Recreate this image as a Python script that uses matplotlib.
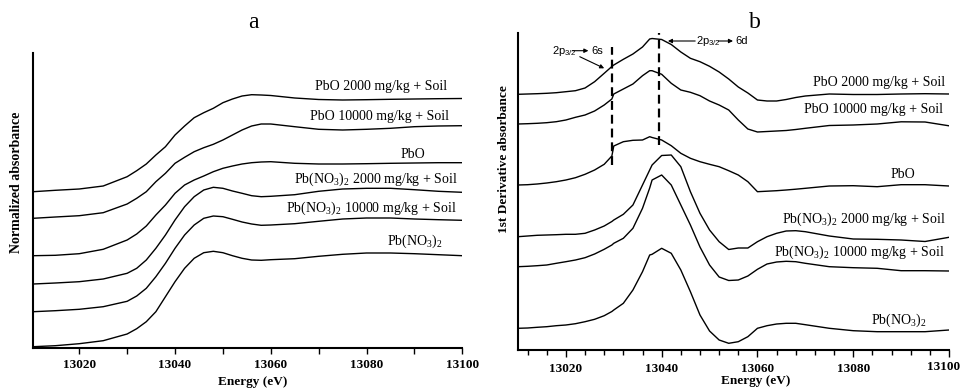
import matplotlib
matplotlib.use("Agg")
import matplotlib.pyplot as plt
from matplotlib.ticker import MultipleLocator

plt.rcParams['font.family'] = ['Liberation Serif', 'DejaVu Serif']
plt.rcParams['mathtext.fontset'] = 'custom'
plt.rcParams['mathtext.rm'] = 'Liberation Serif'
plt.rcParams['mathtext.sf'] = 'Liberation Sans'

# ---------------- data: panel a (normalized XANES, stacked) ----------------
energy_a = [13010.4, 13015, 13020, 13025, 13030, 13032, 13034, 13036, 13038, 13040,
            13042, 13044, 13046, 13048, 13050, 13052, 13054, 13056, 13058, 13060,
            13065, 13070, 13075, 13080, 13085, 13090, 13095, 13100]
a_pbo_2000 = [156.3, 157.7, 159, 162, 171.3, 177.3, 184, 193, 201.3, 213,
              222, 230.3, 235.3, 239.7, 245.3, 249, 252, 253.3, 253, 252.5,
              250, 248.5, 248, 248.3, 248.7, 249, 249.3, 249.5]
a_pbo_10000 = [129.7, 131, 132.3, 135.3, 144, 149.7, 156.3, 166.3, 174.7, 184.7,
               190.7, 196.3, 200.3, 203.7, 208, 213, 218, 222, 224, 224,
               221.3, 218.7, 218, 218.7, 219.7, 221.3, 222, 222.3]
a_pbo = [92.3, 92.7, 94.3, 98.7, 108, 114, 122, 133, 143, 154.7,
         163, 168, 172, 176.3, 179.7, 182, 184, 185.3, 186, 186.3,
         184.7, 184, 184, 184.3, 184.7, 185, 185.3, 185.3]
a_pbno3_2000 = [64, 65, 66.3, 69, 74.7, 79.7, 88, 99.7, 113, 128,
                141.3, 151.3, 158, 160.7, 159.7, 157, 154.7, 152.3, 151.3, 151.7,
                153.3, 156.7, 159, 159.7, 159.7, 158.3, 156.7, 155.7]
a_pbno3_10000 = [36.3, 37.3, 38.7, 41.3, 46.7, 52, 59.7, 71.3, 84.7, 99.7,
                 113, 123, 129.7, 132, 131.3, 128.7, 126, 124, 122.7, 123,
                 124.3, 126.7, 129, 130, 130, 129, 128.3, 127.7]
a_pbno3 = [1.3, 2.3, 4.3, 7.3, 14, 19.3, 26.3, 36.3, 51.3, 66.3,
           79.7, 89.7, 95.3, 96.7, 95.3, 92.3, 89.7, 88, 87.7, 88.3,
           89.3, 91.7, 93.7, 95, 95, 94.3, 93.3, 92.3]

# ---------------- data: panel b (1st derivative, stacked) ----------------
energy_b = [13010, 13012, 13014, 13016, 13018, 13020, 13022, 13024, 13026, 13028,
            13029.6, 13030, 13032, 13034, 13036, 13037.5, 13038, 13040, 13042, 13044,
            13046, 13048, 13050, 13052, 13054, 13056, 13058, 13060, 13062, 13064,
            13066, 13068, 13070, 13075, 13080, 13085, 13090, 13095, 13100]
b_pbo_2000 = [255.7, 256, 256.3, 256.7, 257.3, 258.3, 259.3, 262, 268.3, 276.7,
              283.5, 285, 290.7, 296, 303, 311, 311.5, 310.5, 305.5, 298,
              291.7, 288.3, 283.7, 278, 271, 263, 257, 250, 249, 249,
              250.5, 252.5, 254, 256, 255.5, 255.5, 256, 256.3, 256]
b_pbo_10000 = [226, 226.3, 226.7, 227.3, 228.3, 230, 232.7, 235, 239, 245,
               251, 256, 261, 266, 274.3, 279.3, 279.3, 275.7, 266.7, 260,
               257.7, 254.3, 249, 245, 240, 230, 221, 218, 218.5, 219,
               219.5, 220.5, 221.7, 224.5, 225, 226, 228.2, 228, 224.2]
b_pbo = [165, 165.3, 166, 167, 168.3, 170, 172.3, 175.7, 180, 185.7,
         194, 204, 208.3, 209.7, 210, 213.3, 212.5, 210, 204.3, 196.7,
         191.7, 188.3, 185.7, 183.3, 179.3, 175, 168.3, 158.3, 158.8, 159.3,
         160, 160.8, 161.7, 164, 164.3, 163.3, 165.3, 165.3, 164]
b_pbno3_2000 = [113.3, 114, 114.7, 115, 115.3, 115.7, 115.7, 116.7, 120, 124,
                128.5, 130, 135.7, 145, 165, 180, 185, 194.5, 195, 183.3,
                158.3, 136.7, 120, 108.3, 100.5, 102, 102, 108.3, 113.3, 116.7,
                119, 119.3, 118.3, 114, 111, 110.7, 110, 108.5, 112.7]
b_pbno3_10000 = [83.3, 83.7, 84.3, 85, 86.7, 88.3, 90, 92.3, 96, 100.7,
                 105, 106.7, 111.7, 121.7, 141.7, 162, 170, 175, 165, 145,
                 125, 103, 85, 73, 69.5, 70, 74, 80.7, 86, 88,
                 88.7, 88.3, 86.7, 83.3, 82.3, 81.7, 79.3, 79.3, 79]
b_pbno3 = [21.7, 22, 22.7, 23.3, 24.3, 25, 26.3, 28.3, 30.7, 34.3,
           38.5, 40, 46.7, 60, 78.3, 95, 95.7, 101.7, 96.7, 80,
           58.3, 35, 19, 10, 6.7, 8.3, 13.3, 21.7, 24.3, 26,
           26.7, 26.7, 25.3, 21.7, 19.3, 18.3, 18.3, 18.3, 20]

labels = ["PbO 2000 mg/kg + Soil", "PbO 10000 mg/kg + Soil", "PbO",
          r"Pb(NO$_\mathregular{3}$)$_\mathregular{2}$ 2000 mg/kg + Soil",
          r"Pb(NO$_\mathregular{3}$)$_\mathregular{2}$ 10000 mg/kg + Soil",
          r"Pb(NO$_\mathregular{3}$)$_\mathregular{2}$"]
series_a = [a_pbo_2000, a_pbo_10000, a_pbo, a_pbno3_2000, a_pbno3_10000, a_pbno3]
series_b = [b_pbo_2000, b_pbo_10000, b_pbo, b_pbno3_2000, b_pbno3_10000, b_pbno3]
transitions = [13029.6, 13039.4]
xticks = [13020, 13040, 13060, 13080, 13100]
xtick_labels = ["13020", "13040", "13060", "13080", "13100"]

# ---------------- figure ----------------
W, H = 963, 390
fig = plt.figure(figsize=(W / 100, H / 100), dpi=100)

def px_axes(x0, y_top, x1, y_bot):
    return fig.add_axes([x0 / W, 1 - y_bot / H, (x1 - x0) / W, (y_bot - y_top) / H])

axa = px_axes(33.3, 53, 462.3, 348)
axb = px_axes(518, 33, 949, 350)

for ax in (axa, axb):
    for s in ('top', 'right'):
        ax.spines[s].set_visible(False)
    for s in ('left', 'bottom'):
        ax.spines[s].set_linewidth(1.5)
    ax.set_yticks([])

axa.set_xticks(xticks, labels=xtick_labels, fontweight='bold', fontsize=9.5)
# last label of panel b is drawn by hand so it stays inside the figure
axb.set_xticks(xticks, labels=xtick_labels[:-1] + [""], fontweight='bold', fontsize=9.5)

axa.set_xlim(13010.4, 13100)
axa.set_ylim(0, 295)
axa.xaxis.set_minor_locator(MultipleLocator(10))
axa.tick_params(axis='x', which='both', direction='out', length=4, width=1, pad=4)

axb.set_xlim(13010, 13100)
axb.set_ylim(0, 317)
axb.xaxis.set_minor_locator(MultipleLocator(4))
axb.tick_params(axis='x', which='major', direction='out', length=5, width=1, pad=4)
axb.tick_params(axis='x', which='minor', direction='out', length=3.5, width=1)
axb.text(13098.9, -0.034, xtick_labels[-1], transform=axb.get_xaxis_transform(),
         ha='center', va='top', fontweight='bold', fontsize=9.5)

for y in series_a:
    axa.plot(energy_a, y, color='black', lw=1.0, solid_joinstyle='round')
for y in series_b:
    axb.plot(energy_b, y, color='black', lw=1.0, solid_joinstyle='round')

# curve labels
pos_a = [(13096.8, 257.7), (13097.2, 227.7), (13092.2, 189.7),
         (13099.1, 164.7), (13098.9, 135.7), (13096.0, 102.7)]
pos_b = [(13099.2, 263.7), (13098.7, 236.7), (13092.9, 171.7),
         (13099.4, 126.7), (13099.2, 93.7), (13095.4, 25.7)]
for lab, (x, y) in zip(labels, pos_a):
    axa.text(x, y, lab, ha='right', va='baseline', fontsize=10)
for lab, (x, y) in zip(labels, pos_b):
    axb.text(x, y, lab, ha='right', va='baseline', fontsize=10)

# dashed transition lines
axb.plot([transitions[0]] * 2, [185, 303], color='black', lw=1.6, ls=(0, (4, 2.2)))
axb.plot([transitions[1]] * 2, [205, 321], color='black', lw=1.6, ls=(0, (4, 2.2)))

# annotations
sans = ['Liberation Sans', 'DejaVu Sans']
arrow = dict(arrowstyle='-|>', lw=0.8, color='black', mutation_scale=6,
             shrinkA=0, shrinkB=0)
axb.text(13017.0, 296, r"2p$_\mathregular{3/2}$", family=sans, fontsize=8, va='baseline')
axb.annotate('', xy=(13024.7, 299.3), xytext=(13021.4, 299.3), arrowprops=arrow)
axb.text(13025.3, 296, "6s", family=sans, fontsize=8, va='baseline')
axb.annotate('', xy=(13028.0, 281.7), xytext=(13022.9, 293.3), arrowprops=arrow)

axb.annotate('', xy=(13041.3, 309), xytext=(13047.0, 309), arrowprops=arrow)
axb.text(13047.2, 305.5, r"2p$_\mathregular{3/2}$", family=sans, fontsize=8, va='baseline')
axb.annotate('', xy=(13054.9, 309), xytext=(13051.8, 309), arrowprops=arrow)
axb.text(13055.3, 305.5, "6d", family=sans, fontsize=8, va='baseline')

# titles and axis labels
fig.text(253 / W, 1 - 23 / H, "a", ha='center', va='center', fontsize=17)
fig.text(755 / W, 1 - 23 / H, "b", ha='center', va='center', fontsize=17)
fig.text(253 / W, 1 - 382 / H, "Energy (eV)", ha='center', va='center',
         fontsize=9.5, fontweight='bold')
fig.text(756 / W, 1 - 381 / H, "Energy (eV)", ha='center', va='center',
         fontsize=9.5, fontweight='bold')
fig.text(17 / W, 1 - 182 / H, "Normalized absorbance", ha='center', va='center',
         rotation=90, fontsize=10, fontweight='bold')
fig.text(504 / W, 1 - 159 / H, "1st Derivative absorbance", ha='center', va='center',
         rotation=90, fontsize=9.6, fontweight='bold')

fig.savefig("out.png", dpi=100)
